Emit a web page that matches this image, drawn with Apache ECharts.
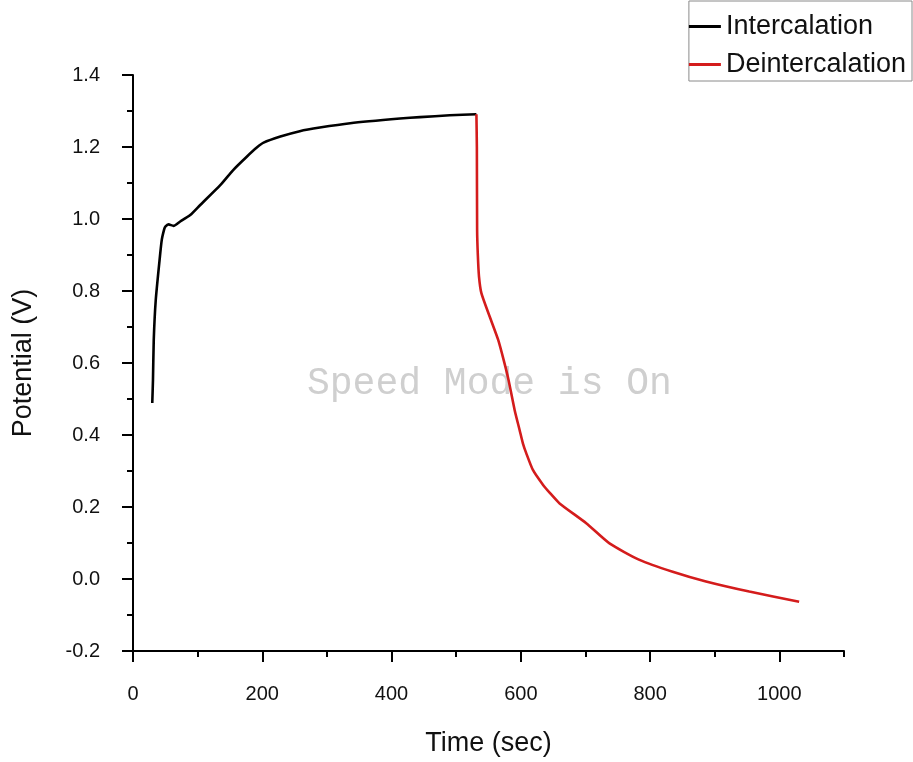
<!DOCTYPE html>
<html>
<head>
<meta charset="utf-8">
<script src="https://cdn.jsdelivr.net/npm/echarts@6/dist/echarts.min.js"></script>
<style>
html,body{margin:0;padding:0;background:#fff;}
#chart{width:913px;height:762px;}
</style>
</head>
<body>
<div id="chart"></div>
<script>
// ---- data ----
const seriesNames = ['Intercalation', 'Deintercalation'];
const intercalationTime = [29.8, 30.9, 32.1, 35.2, 41.1, 44.5, 48.3, 50, 55, 62.7, 73, 88.5, 104, 135, 155, 176, 192, 202, 228, 258, 289, 336, 413, 444, 490, 531.3];
const intercalationPotential = [0.489, 0.553, 0.664, 0.775, 0.886, 0.942, 0.972, 0.979, 0.985, 0.981, 0.993, 1.011, 1.039, 1.094, 1.136, 1.173, 1.199, 1.212, 1.229, 1.244, 1.254, 1.266, 1.279, 1.283, 1.288, 1.291];
const deintercalationTime = [531.3, 532, 532.4, 533.5, 535.3, 539, 551.8, 565, 573.5, 581, 590.5, 598.1, 603.2, 608.5, 618.7, 634.2, 644.5, 660, 701.2, 737.2, 783.6, 834.9, 886.5, 953.4, 1030.6];
const deintercalationPotential = [1.291, 1.2, 0.969, 0.9, 0.84, 0.794, 0.729, 0.664, 0.608, 0.553, 0.469, 0.414, 0.377, 0.349, 0.303, 0.262, 0.240, 0.210, 0.155, 0.099, 0.053, 0.020, -0.007, -0.035, -0.063];
const xMajorTicks = [0, 200, 400, 600, 800, 1000];
const xMinorTicks = [100, 300, 500, 700, 900, 1100];
const yTickLabels = ['-0.2', '0.0', '0.2', '0.4', '0.6', '0.8', '1.0', '1.2', '1.4'];
const xTitle = 'Time (sec)';
const yTitle = 'Potential (V)';
const watermark = 'Speed Mode is On';

const pair = (xs, ys) => xs.map((x, i) => [x, ys[i]]);
const FONT = '"Liberation Sans", Arial, sans-serif';

const chart = echarts.init(document.getElementById('chart'));
chart.setOption({
  animation: false,
  backgroundColor: '#fff',
  grid: { left: 133, right: 69, top: 75, bottom: 111, containLabel: false },
  legend: {
    data: seriesNames,
    orient: 'vertical',
    right: 1, top: 1,
    padding: [12, 6, 3, 0],
    itemGap: 11,
    itemWidth: 32, itemHeight: 3,
    icon: 'rect',
    backgroundColor: '#fff',
    borderColor: '#8a8a8a', borderWidth: 1,
    textStyle: { fontSize: 27, fontFamily: FONT, color: '#111' }
  },
  graphic: [{
    type: 'text', left: 307, top: 365, z: 0,
    style: { text: watermark, font: '38px "Liberation Mono", "Courier New", monospace', fill: '#cfcfcf' }
  }],
  xAxis: [{
    type: 'value', min: 0, max: 1100,
    name: xTitle, nameLocation: 'middle', nameGap: 79,
    nameTextStyle: { fontSize: 27, fontFamily: FONT, color: '#111' },
    splitLine: { show: false },
    axisLine: { show: true, onZero: false, lineStyle: { color: '#000', width: 2 } },
    axisTick: { show: true, inside: false, length: 11, lineStyle: { color: '#000', width: 2 }, customValues: xMajorTicks },
    axisLabel: { margin: 33, fontSize: 20, fontFamily: FONT, color: '#111', customValues: xMajorTicks, formatter: v => String(v) }
  }, {
    type: 'value', min: 0, max: 1100, position: 'bottom',
    splitLine: { show: false },
    axisLine: { show: false, onZero: false },
    axisLabel: { show: false },
    axisTick: { show: true, inside: false, length: 6, lineStyle: { color: '#000', width: 2 }, customValues: xMinorTicks }
  }],
  yAxis: {
    type: 'value', min: -0.2, max: 1.4, interval: 0.2,
    name: yTitle, nameLocation: 'middle', nameGap: 96, nameRotate: 90,
    nameTextStyle: { fontSize: 27, fontFamily: FONT, color: '#111' },
    splitLine: { show: false },
    axisLine: { show: true, onZero: false, lineStyle: { color: '#000', width: 2 } },
    axisTick: { show: true, inside: false, length: 11, lineStyle: { color: '#000', width: 2 } },
    minorTick: { show: true, splitNumber: 2, length: 6, lineStyle: { color: '#000', width: 2 } },
    axisLabel: {
      margin: 33, fontSize: 20, fontFamily: FONT, color: '#111',
      formatter: v => yTickLabels[Math.round((v + 0.2) / 0.2)]
    }
  },
  series: [{
    name: seriesNames[0], type: 'line', xAxisIndex: 0,
    data: pair(intercalationTime, intercalationPotential),
    showSymbol: false, symbol: 'none', smooth: 0.2,
    itemStyle: { color: '#000' },
    lineStyle: { color: '#000', width: 2.6 },
    z: 3
  }, {
    name: seriesNames[1], type: 'line', xAxisIndex: 0,
    data: pair(deintercalationTime, deintercalationPotential),
    showSymbol: false, symbol: 'none', smooth: 0.2,
    itemStyle: { color: '#d41c1c' },
    lineStyle: { color: '#d41c1c', width: 2.6 },
    z: 3
  }]
});
</script>
</body>
</html>
